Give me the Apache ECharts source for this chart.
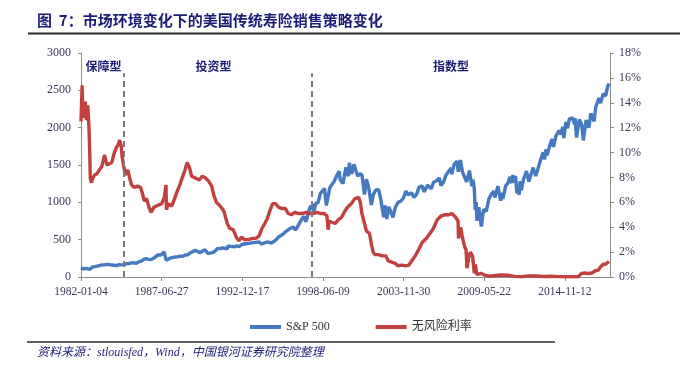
<!DOCTYPE html>
<html><head><meta charset="utf-8">
<script src="https://cdn.jsdelivr.net/npm/echarts@6/dist/echarts.min.js"></script>
<style>html,body{margin:0;padding:0;background:#fff}#c{width:680px;height:370px}</style>
</head><body><div id="c"></div>
<script>
// ---------- data ----------
const seriesNames = ['S&P 500', '无风险利率'];

const spxDates = ['1982-01-04','1982-03-08','1982-05-03','1982-06-21','1982-08-12','1982-10-11','1982-12-06','1983-02-07','1983-04-04','1983-06-06','1983-08-08','1983-10-10','1983-12-05','1984-02-06','1984-04-02','1984-06-11','1984-08-06','1984-10-08','1984-12-10','1985-02-04','1985-04-08','1985-06-10','1985-08-05','1985-10-07','1985-12-09','1986-02-03','1986-04-07','1986-06-09','1986-08-04','1986-10-06','1986-12-08','1987-02-02','1987-04-06','1987-06-08','1987-08-24','1987-10-05','1987-10-19','1987-12-07','1988-02-01','1988-04-04','1988-06-06','1988-08-08','1988-10-03','1988-12-05','1989-02-06','1989-04-03','1989-06-05','1989-08-07','1989-10-09','1989-10-16','1989-12-04','1990-01-29','1990-03-05','1990-06-04','1990-07-16','1990-08-24','1990-10-11','1990-12-03','1991-02-04','1991-04-08','1991-06-10','1991-08-05','1991-10-07','1991-12-09','1991-12-31','1992-03-02','1992-06-08','1992-08-10','1992-10-05','1992-12-07','1993-03-01','1993-06-07','1993-09-06','1993-12-06','1994-02-07','1994-04-04','1994-06-06','1994-09-05','1994-12-05','1995-03-06','1995-06-05','1995-09-04','1995-12-04','1996-03-04','1996-06-03','1996-07-22','1996-09-09','1996-12-02','1997-02-17','1997-04-14','1997-06-09','1997-08-06','1997-09-02','1997-10-07','1997-10-27','1997-12-08','1998-02-09','1998-04-06','1998-07-17','1998-08-31','1998-10-08','1998-11-23','1999-01-04','1999-03-08','1999-05-10','1999-07-16','1999-08-09','1999-10-15','1999-12-31','2000-02-28','2000-03-24','2000-05-24','2000-07-17','2000-09-01','2000-10-17','2000-12-04','2001-01-29','2001-04-04','2001-05-21','2001-07-16','2001-09-21','2001-11-05','2002-01-07','2002-03-19','2002-05-06','2002-07-23','2002-08-22','2002-10-09','2002-11-27','2003-01-13','2003-03-11','2003-05-05','2003-07-14','2003-09-15','2003-11-17','2004-01-26','2004-03-22','2004-06-14','2004-08-12','2004-10-18','2004-12-13','2005-03-07','2005-04-20','2005-07-18','2005-10-13','2005-12-12','2006-02-27','2006-05-05','2006-06-13','2006-08-14','2006-10-16','2006-12-11','2007-02-20','2007-03-05','2007-05-07','2007-07-16','2007-08-15','2007-10-09','2007-11-26','2008-01-07','2008-03-10','2008-05-19','2008-07-15','2008-08-11','2008-09-15','2008-10-10','2008-11-04','2008-11-20','2009-01-06','2009-03-09','2009-05-04','2009-06-15','2009-07-10','2009-09-14','2009-11-16','2010-01-19','2010-02-08','2010-04-23','2010-07-02','2010-08-09','2010-08-26','2010-11-05','2010-12-31','2011-02-18','2011-03-16','2011-04-29','2011-06-15','2011-07-07','2011-08-08','2011-09-16','2011-10-03','2011-10-27','2011-11-25','2012-01-23','2012-04-02','2012-06-01','2012-09-14','2012-11-15','2012-12-31','2013-03-14','2013-05-21','2013-06-24','2013-08-02','2013-08-27','2013-11-27','2013-12-31','2014-02-03','2014-04-02','2014-06-20','2014-08-07','2014-09-18','2014-10-15','2014-12-05','2015-01-15','2015-03-02','2015-05-21','2015-07-08','2015-07-20','2015-08-25','2015-11-03','2015-12-31','2016-02-11','2016-04-20','2016-06-27','2016-08-15','2016-11-04','2016-12-13','2017-03-01','2017-04-13','2017-06-19','2017-08-18','2017-10-05','2017-11-08'];
const spxValues = [122,108,116,108,102,134,139,145,153,162,162,170,166,160,157,153,165,163,163,179,181,189,190,184,204,213,235,245,236,233,250,275,298,293,335,318,225,230,255,262,268,272,280,277,296,296,324,340,358,342,345,325,334,365,368,313,298,326,342,380,380,390,385,378,417,410,405,418,408,435,445,450,460,465,470,440,455,470,455,485,535,565,610,645,670,630,665,750,810,740,860,955,900,980,875,980,1000,1120,1185,957,960,1190,1230,1275,1350,1418,1305,1250,1469,1350,1527,1380,1510,1520,1350,1380,1370,1105,1310,1200,965,1100,1165,1170,1060,800,960,777,940,930,800,930,1000,1015,1050,1150,1100,1130,1065,1110,1200,1220,1140,1230,1180,1270,1290,1325,1225,1270,1365,1410,1460,1375,1510,1550,1410,1565,1410,1410,1275,1425,1215,1305,1190,900,1005,752,935,677,905,925,880,1050,1110,1150,1065,1217,1022,1128,1047,1225,1258,1343,1257,1364,1265,1353,1119,1216,1099,1285,1159,1315,1419,1278,1465,1353,1426,1563,1669,1573,1710,1630,1807,1848,1742,1890,1962,1910,2011,1862,2075,1992,2117,2131,2046,2128,1867,2109,2044,1829,2102,2000,2190,2085,2271,2396,2329,2453,2425,2552,2590];

const rateDates = ['1982-01-04','1982-02-01','1982-02-22','1982-03-22','1982-04-19','1982-05-17','1982-06-21','1982-07-19','1982-08-09','1982-08-23','1982-09-20','1982-10-18','1982-12-06','1983-02-07','1983-04-04','1983-06-06','1983-08-08','1983-10-10','1983-12-05','1984-02-06','1984-04-02','1984-05-28','1984-07-09','1984-08-20','1984-09-24','1984-10-22','1984-12-03','1985-01-21','1985-03-11','1985-04-22','1985-06-10','1985-08-19','1985-11-04','1986-01-20','1986-03-10','1986-04-21','1986-06-16','1986-08-18','1986-10-06','1986-12-15','1987-02-16','1987-04-20','1987-06-29','1987-08-31','1987-10-13','1987-10-23','1987-12-07','1988-02-29','1988-05-02','1988-07-05','1988-09-19','1988-11-21','1989-01-16','1989-03-20','1989-05-15','1989-07-10','1989-09-11','1989-11-13','1990-01-15','1990-03-26','1990-06-04','1990-09-03','1990-11-19','1991-01-07','1991-03-18','1991-06-17','1991-09-16','1991-12-09','1992-02-10','1992-05-04','1992-07-20','1992-09-21','1992-11-23','1993-02-08','1993-05-17','1993-08-23','1993-11-15','1994-02-07','1994-04-18','1994-06-27','1994-08-29','1994-11-07','1995-01-09','1995-03-20','1995-06-12','1995-08-28','1995-11-20','1996-01-29','1996-04-15','1996-07-08','1996-10-07','1997-01-13','1997-04-14','1997-07-07','1997-10-06','1998-01-12','1998-04-13','1998-07-06','1998-09-14','1998-10-15','1998-11-09','1999-01-11','1999-04-12','1999-06-21','1999-09-13','1999-12-06','2000-02-07','2000-05-15','2000-08-07','2000-11-13','2000-12-26','2001-01-29','2001-03-19','2001-05-21','2001-08-06','2001-09-24','2001-11-05','2001-12-17','2002-03-18','2002-06-17','2002-09-16','2002-11-11','2003-02-10','2003-05-05','2003-07-07','2003-10-06','2004-01-12','2004-04-05','2004-06-21','2004-09-13','2004-12-06','2005-03-07','2005-06-13','2005-09-12','2005-12-05','2006-03-13','2006-06-12','2006-09-11','2006-12-11','2007-03-12','2007-06-11','2007-08-10','2007-08-21','2007-10-15','2007-11-26','2008-01-22','2008-02-25','2008-03-19','2008-05-05','2008-06-09','2008-08-04','2008-09-17','2008-10-13','2008-11-17','2008-12-15','2009-03-02','2009-06-01','2009-10-05','2010-03-01','2010-07-05','2011-01-03','2011-06-06','2011-12-05','2012-06-04','2012-12-03','2013-06-03','2013-12-02','2014-06-02','2014-12-01','2015-06-01','2015-10-05','2015-12-21','2016-03-07','2016-06-06','2016-09-12','2016-12-12','2017-02-13','2017-04-03','2017-06-19','2017-08-14','2017-10-02','2017-11-08'];
const rateValues = [12.5,15.4,12.8,13.6,14.1,12.6,13.8,12.1,10.0,7.9,7.6,7.9,8.2,8.3,8.6,8.9,9.8,9.0,9.1,9.2,9.9,10.4,10.6,11.0,10.6,9.6,8.8,8.2,8.6,8.0,7.4,7.2,7.3,7.2,6.7,6.1,6.3,5.6,5.2,5.6,5.7,5.8,5.9,6.4,7.4,5.4,5.9,5.7,6.2,6.8,7.4,8.0,8.5,9.2,8.8,8.1,8.0,7.9,7.8,8.1,8.0,7.7,7.3,6.6,6.0,5.7,5.3,4.3,3.9,3.8,3.2,2.9,3.2,3.0,3.0,3.1,3.1,3.3,3.9,4.3,4.7,5.4,5.9,5.9,5.6,5.5,5.5,5.1,5.0,5.2,5.1,5.1,5.2,5.1,5.1,5.2,5.1,5.1,4.9,3.8,4.5,4.4,4.3,4.6,4.8,5.3,5.6,5.9,6.3,6.4,5.9,5.1,4.5,3.7,3.5,2.6,2.0,1.8,1.8,1.7,1.7,1.3,1.2,1.1,0.9,0.95,0.9,0.95,1.3,1.7,2.2,2.8,3.1,3.5,3.9,4.6,4.9,5.0,5.0,5.1,4.8,4.5,3.1,4.0,3.2,2.4,2.2,0.7,1.6,2.0,1.7,0.3,1.0,0.2,0.05,0.3,0.15,0.07,0.12,0.16,0.14,0.05,0.02,0.09,0.08,0.04,0.06,0.03,0.02,0.02,0.01,0.27,0.32,0.28,0.32,0.52,0.53,0.78,1.02,1.02,1.06,1.25];

const phaseNames = ['保障型', '投资型', '指数型'];
const phaseLabelDates = ['1983-07-17', '1991-01-05', '2007-02-19'];
const phaseBoundaryDates = ['1984-12-07', '1997-09-15'];

const xStartDate = '1982-01-04';
const xLabelStepDays = 2000;
const xEndDate = '2017-12-03';
const leftAxis = { min: 0, max: 3000, step: 500 };
const rightAxis = { min: 0, max: 18, step: 2 };

// ---------- helpers ----------
const ORIGIN = Date.UTC(1982, 0, 4);
function dayIndex(s) {
  const p = s.split('-').map(Number);
  return Math.round((Date.UTC(p[0], p[1] - 1, p[2]) - ORIGIN) / 86400000);
}
function fmtDay(v) {
  const d = new Date(ORIGIN + v * 86400000);
  const m = String(d.getUTCMonth() + 1).padStart(2, '0');
  const dd = String(d.getUTCDate()).padStart(2, '0');
  return d.getUTCFullYear() + '-' + m + '-' + dd;
}

const spxData = spxDates.map((d, i) => [dayIndex(d), spxValues[i]]);
const rateData = rateDates.map((d, i) => [dayIndex(d), rateValues[i]]);

const serif = '"Liberation Serif","Times New Roman","Noto Sans CJK SC",serif';
const navy = '#1c1c78';
const axisColor = '#8c8c8c';
const labelColor = '#3a3a5a';
const blue = '#4679bf';
const red = '#c0413e';

const chart = echarts.init(document.getElementById('c'), null, { renderer: 'canvas' });
chart.setOption({
  animation: false,
  backgroundColor: '#fff',
  grid: { left: 81, right: 70, top: 53, bottom: 93, containLabel: false },
  legend: {
    data: seriesNames,
    left: 245, top: 316,
    icon: 'rect', itemWidth: 31, itemHeight: 4, itemGap: 46,
    textStyle: { fontFamily: serif, fontSize: 12, color: '#333' }
  },
  xAxis: {
    type: 'value',
    min: dayIndex(xStartDate), max: dayIndex(xEndDate), interval: xLabelStepDays,
    splitLine: { show: false },
    axisLine: { lineStyle: { color: axisColor, width: 1 } },
    axisTick: { show: true, length: 4, lineStyle: { color: axisColor } },
    axisLabel: {
      margin: 9, fontFamily: serif, fontSize: 11.5, color: labelColor,
      showMaxLabel: false,
      formatter: v => (v % xLabelStepDays === 0 ? fmtDay(v) : '')
    }
  },
  yAxis: [
    {
      type: 'value', min: leftAxis.min, max: leftAxis.max, interval: leftAxis.step,
      splitLine: { show: false },
      axisLine: { show: true, lineStyle: { color: axisColor } },
      axisTick: { show: true, length: 3, lineStyle: { color: axisColor } },
      axisLabel: { margin: 10, fontFamily: serif, fontSize: 12, color: labelColor, formatter: v => String(v) }
    },
    {
      type: 'value', min: rightAxis.min, max: rightAxis.max, interval: rightAxis.step,
      position: 'right',
      splitLine: { show: false },
      axisLine: { show: true, lineStyle: { color: axisColor } },
      axisTick: { show: true, length: 4, lineStyle: { color: axisColor } },
      axisLabel: { margin: 9, fontFamily: serif, fontSize: 12, color: labelColor, formatter: v => v + '%' }
    }
  ],
  series: [
    {
      name: seriesNames[0], type: 'line', yAxisIndex: 0, data: spxData,
      showSymbol: false, symbol: 'none', color: blue,
      lineStyle: { color: blue, width: 3.4 },
      markLine: {
        silent: true, symbol: ['none', 'none'],
        label: { show: false },
        lineStyle: { type: [6, 4], color: '#7a7a7a', width: 2 },
        data: phaseBoundaryDates.map(d => [{ coord: [dayIndex(d), 0] }, { coord: [dayIndex(d), 2730] }])
      },
      markPoint: {
        silent: true, symbol: 'rect', symbolSize: 1,
        itemStyle: { color: 'rgba(0,0,0,0)' },
        label: {
          show: true, position: 'inside', formatter: '{b}',
          color: navy, fontWeight: 'bold', fontSize: 12,
          fontFamily: '"Noto Sans CJK SC",sans-serif'
        },
        data: phaseNames.map((n, i) => ({ name: n, coord: [dayIndex(phaseLabelDates[i]), 2825] }))
      }
    },
    {
      name: seriesNames[1], type: 'line', yAxisIndex: 1, data: rateData,
      showSymbol: false, symbol: 'none', color: red,
      lineStyle: { color: red, width: 3.4 }
    }
  ],
  graphic: [
    { type: 'text', left: 37, top: 13,
      style: { text: '图  7：市场环境变化下的美国传统寿险销售策略变化', fill: navy,
        font: 'bold 15px "Noto Sans CJK SC",sans-serif' } },
    { type: 'line', shape: { x1: 28, y1: 33.5, x2: 680, y2: 33.5 },
      style: { stroke: '#2a2a2a', lineWidth: 2 } },
    { type: 'line', shape: { x1: 27, y1: 342, x2: 555, y2: 342 },
      style: { stroke: '#2a2a2a', lineWidth: 1.5 } },
    { type: 'text', left: 37, top: 347,
      style: { text: '资料来源：stlouisfed，Wind，中国银河证券研究院整理', fill: navy,
        font: 'italic 12px "Liberation Serif","Noto Sans CJK SC",serif' } }
  ]
});
</script>
</body></html>
